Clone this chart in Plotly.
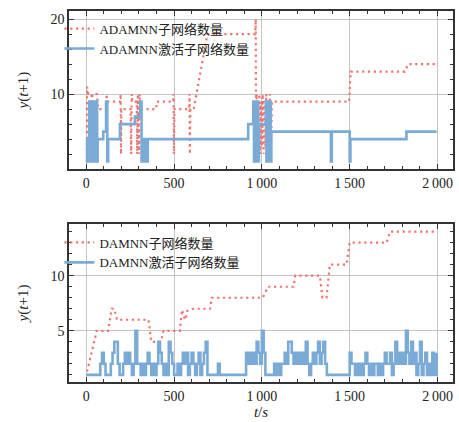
import plotly.graph_objects as go
from plotly.subplots import make_subplots

# ---------------- data ----------------
# Top panel: ADAMNN
adamnn_total_t = [0, 4, 5, 12, 30, 32, 36, 60, 65, 68, 112, 116, 120, 194, 196, 198, 200, 253, 256, 259, 263,
                  288, 290, 294, 300, 304, 310, 398, 402, 495, 497, 499, 502, 586, 588, 590, 593, 612, 690,
                  962, 965, 967, 970, 974, 978, 982, 986, 990, 995, 1000, 1005, 1010, 1015, 1020, 1025, 1030,
                  1035, 1040, 1045, 1050, 1058, 1497, 1505, 1814, 1832, 1995]
adamnn_total_v = [1, 1, 11, 10, 10, 9, 10, 10, 9, 8, 8, 10, 9, 9, 10, 2, 8, 8, 2, 10, 9,
                  9, 2, 10, 2, 10, 8, 8, 9, 9, 10, 2, 8, 8, 10, 2, 8, 8, 18,
                  18, 20, 2, 10, 2, 9, 3, 10, 2, 9, 3, 10, 2, 9, 3, 10, 2,
                  9, 3, 10, 2, 9, 9, 13, 13, 14, 14]

adamnn_active_t = [0, 5, 17, 20, 23, 26, 29, 32, 35, 38, 41, 44, 47, 50, 53, 56, 59, 62, 65, 97, 113, 120, 125,
                   192, 277, 307, 315, 320, 325, 330, 335, 340, 345, 350, 353, 922, 951, 955, 959, 963, 967,
                   971, 975, 979, 983, 1022, 1026, 1030, 1034, 1038, 1042, 1046, 1050, 1054, 1393, 1398,
                   1500, 1504, 1823, 1995]
adamnn_active_v = [1, 4, 9, 1, 9, 1, 9, 1, 9, 1, 9, 1, 9, 1, 9, 1, 9, 1, 4, 5, 9, 1, 4,
                   6, 7, 9, 1, 4, 1, 4, 1, 4, 1, 4, 4, 6, 9, 1, 9, 1, 9,
                   1, 9, 1, 6, 9, 1, 9, 1, 9, 1, 9, 1, 5, 1, 5,
                   1, 4, 5, 5]

# Bottom panel: DAMNN
damnn_total_t = [5, 60, 125, 145, 160, 175, 355, 370, 425, 440, 533, 545, 555, 565, 575, 610, 705, 715,
                 1005, 1035, 1180, 1190, 1330, 1345, 1368, 1387, 1482, 1500, 1710, 1730, 1995]
damnn_total_v = [1.3, 5, 5, 7, 7, 6, 6, 4, 4, 5, 5, 6.9, 6.3, 6, 6.8, 7, 7, 8,
                 8, 9, 9, 10, 10, 8, 8, 11, 11, 13, 13, 14, 14]

damnn_active_t = [0, 80, 90, 100, 110, 140, 150, 160, 180, 190, 210, 220, 230, 240, 250, 260, 270, 280, 290,
                  310, 320, 330, 340, 350, 360, 370, 380, 390, 400, 410, 420, 430, 440, 450, 460, 470, 480,
                  490, 500, 520, 530, 540, 550, 560, 570, 580, 590, 600, 610, 620, 630, 640, 650, 660, 670,
                  680, 690, 750, 760, 910, 920, 930, 940, 950, 960, 970, 980, 990, 1000, 1010, 1020, 1070,
                  1080, 1090, 1100, 1110, 1130, 1140, 1150, 1170, 1180, 1190, 1200, 1210, 1220, 1230, 1240,
                  1250, 1260, 1270, 1280, 1290, 1300, 1310, 1320, 1330, 1340, 1350, 1360, 1370, 1500, 1510,
                  1530, 1540, 1550, 1560, 1570, 1580, 1590, 1600, 1610, 1620, 1630, 1640, 1660, 1670, 1680,
                  1690, 1700, 1710, 1730, 1740, 1750, 1760, 1770, 1780, 1790, 1800, 1810, 1820, 1830, 1840,
                  1850, 1860, 1870, 1880, 1890, 1900, 1910, 1920, 1930, 1940, 1950, 1960, 1970, 1980, 1995]
damnn_active_v = [1, 2, 3, 2, 1, 2, 3, 4, 2, 1, 2, 3, 2, 3, 2, 1, 2, 5, 2,
                  1, 2, 1, 2, 3, 2, 1, 2, 1, 2, 4, 3, 2, 1, 2, 1, 4, 3,
                  2, 1, 2, 1, 2, 3, 2, 3, 1, 2, 3, 2, 1, 2, 3, 1, 2, 3,
                  4, 1, 2, 1, 3, 2, 3, 2, 3, 2, 4, 3, 2, 5, 3, 1, 2,
                  1, 2, 1, 2, 3, 2, 4, 3, 2, 3, 2, 3, 2, 3, 2,
                  4, 2, 1, 2, 3, 2, 3, 4, 2, 3, 4, 2, 1, 3, 2,
                  1, 2, 1, 2, 1, 2, 3, 2, 1, 2, 1, 2, 1, 2, 1,
                  2, 3, 2, 3, 1, 2, 4, 2, 3, 2, 3, 2, 5, 3, 2,
                  4, 2, 3, 1, 2, 4, 1, 2, 3, 1, 2, 1, 3, 1, 3]

x_tickvals = [0, 500, 1000, 1500, 2000]
x_ticktext = ["0", "500", "1\u2009000", "1\u2009500", "2\u2009000"]
top_yticks = [10, 20]
bottom_yticks = [5, 10]

RED = "#f07470"
BLUE = "#7aaad6"
FONT = "Liberation Serif, Noto Sans CJK SC, serif"
TXT = "#222222"
DOTS = "2.2px,3.6px"

fig = make_subplots(rows=2, cols=1, vertical_spacing=0.148)

fig.add_trace(go.Scatter(x=adamnn_total_t, y=adamnn_total_v, mode="lines",
                         line=dict(color=RED, width=2.2, dash=DOTS),
                         name="ADAMNN子网络数量", legend="legend"), row=1, col=1)
fig.add_trace(go.Scatter(x=adamnn_active_t, y=adamnn_active_v, mode="lines",
                         line=dict(color=BLUE, width=2.6, shape="hv"),
                         name="ADAMNN激活子网络数量", legend="legend"), row=1, col=1)
fig.add_trace(go.Scatter(x=damnn_total_t, y=damnn_total_v, mode="lines",
                         line=dict(color=RED, width=2.2, dash=DOTS),
                         name="DAMNN子网络数量", legend="legend2"), row=2, col=1)
fig.add_trace(go.Scatter(x=damnn_active_t, y=damnn_active_v, mode="lines",
                         line=dict(color=BLUE, width=2.6, shape="hv"),
                         name="DAMNN激活子网络数量", legend="legend2"), row=2, col=1)

axis_common = dict(showline=True, linecolor="#333333", linewidth=1.5, mirror="allticks",
                   ticks="inside", ticklen=5, tickwidth=1, tickcolor="#333333",
                   showgrid=True, gridcolor="#c4c4c4", gridwidth=1, zeroline=False,
                   automargin=False,
                   tickfont=dict(family=FONT, size=14, color=TXT))
minor_x = dict(ticks="inside", ticklen=3, dtick=100, tickcolor="#333333", showgrid=False)

fig.update_xaxes(**axis_common, range=[-98, 2088], tickvals=x_tickvals, ticktext=x_ticktext,
                 minor=minor_x)
fig.update_yaxes(**axis_common)
fig.update_yaxes(range=[0, 21.1], tickvals=top_yticks,
                 minor=dict(ticks="inside", ticklen=3, dtick=2, tick0=0, tickcolor="#333333", showgrid=False),
                 title=dict(text="<i>y</i>(<i>t</i>+1)", font=dict(family=FONT, size=15, color=TXT), standoff=18),
                 row=1, col=1)
fig.update_yaxes(range=[0.35, 14.7], tickvals=bottom_yticks,
                 minor=dict(ticks="inside", ticklen=3, dtick=1, tick0=0, tickcolor="#333333", showgrid=False),
                 title=dict(text="<i>y</i>(<i>t</i>+1)", font=dict(family=FONT, size=15, color=TXT), standoff=18),
                 row=2, col=1)
fig.update_xaxes(title=dict(text="<i>t</i>/<i>s</i>", font=dict(family=FONT, size=15, color=TXT), standoff=2),
                 row=2, col=1)

legend_common = dict(bgcolor="rgba(255,255,255,0)", borderwidth=0,
                     font=dict(family=FONT, size=13, color=TXT),
                     xanchor="left", yanchor="top", tracegroupgap=0, itemwidth=30)

fig.update_layout(
    width=459, height=422,
    margin=dict(l=69, r=6, t=11, b=40),
    paper_bgcolor="white", plot_bgcolor="white",
    font=dict(family=FONT, color=TXT),
    showlegend=True,
    hovermode=False,
    legend=dict(**legend_common, x=-0.025, y=0.993, yref="paper"),
    legend2=dict(**legend_common, x=-0.025, y=0.4165, yref="paper"),
)

fig.write_html("out.html", config={"displayModeBar": False},
               post_script="document.body.style.margin='0';document.body.style.padding='0';")
